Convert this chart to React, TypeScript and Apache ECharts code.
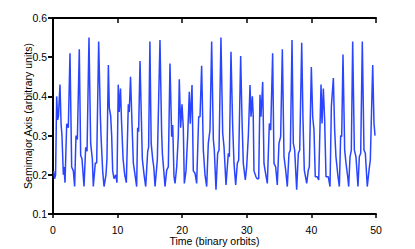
import React, { useEffect, useRef } from "react";
import * as echarts from "echarts";

// Time in binary orbits
const timeOrbits: number[] = [
  0.1, 0.25, 0.4, 0.57, 0.72, 0.85, 1.08, 1.25, 1.39, 1.6, 1.7, 1.86,
  2.12, 2.37, 2.63, 2.89, 3.15, 3.35,
  3.56, 3.77, 4.07, 4.28, 4.49, 4.8,
  5.06, 5.27, 5.57, 5.83, 6.09, 6.24,
  6.55, 6.76, 7.07, 7.33, 7.43, 7.69, 7.9,
  8.2, 8.35, 8.57, 8.72, 8.93, 9.08, 9.24, 9.44, 9.7, 9.9,
  10.1, 10.25, 10.45, 10.6, 10.85, 11.1, 11.35,
  11.66, 11.8, 12.0, 12.23, 12.44, 12.7, 12.95,
  13.1, 13.25, 13.47, 13.83, 14.1, 14.35,
  14.66, 14.8, 15.0, 15.2, 15.43, 15.6, 15.8,
  16.15, 16.56, 16.82, 16.93, 17.18, 17.34,
  17.6, 17.85, 18.11, 18.37, 18.53, 18.73, 18.89,
  19.15, 19.4, 19.55, 19.76, 19.97, 20.17, 20.33,
  20.59, 20.85, 21.1, 21.25, 21.52, 21.72, 21.98, 22.24,
  22.55, 22.76, 23.01, 23.27, 23.53, 23.79,
  24.04, 24.3, 24.56, 24.82, 24.97, 25.23,
  25.49, 25.7, 26.0, 26.27, 26.47, 26.78,
  27.14, 27.3, 27.55, 27.81, 28.02, 28.28,
  28.53, 28.74, 29.05, 29.26, 29.46, 29.77,
  29.98, 30.24, 30.5, 30.65, 30.86, 31.0, 31.11, 31.42, 31.6, 31.84,
  32.04, 32.2, 32.46, 32.66, 32.82, 33.18,
  33.49, 33.7, 34.0, 34.21, 34.47, 34.72,
  34.98, 35.24, 35.5, 35.76, 36.02, 36.27,
  36.53, 36.74, 37.0, 37.2, 37.41, 37.72,
  37.98, 38.19, 38.5, 38.7, 38.9, 39.27,
  39.52, 39.68, 39.99, 40.2, 40.4, 40.6, 40.91, 41.13,
  41.49, 41.64, 41.85, 42.05, 42.26, 42.62, 42.88,
  43.09, 43.4, 43.6, 43.8, 44.12, 44.33,
  44.53, 44.69, 44.89, 45.15, 45.36, 45.62, 45.77,
  45.98, 46.18, 46.39, 46.65, 46.9, 47.21,
  47.42, 47.63, 47.88, 48.14, 48.35, 48.65,
  48.92, 49.12, 49.49, 49.69, 49.85,
];

// Semimajor axis (arbitrary units)
const semimajorAxis: number[] = [
  0.21, 0.19, 0.2, 0.4, 0.34, 0.35, 0.43, 0.33, 0.3, 0.2, 0.22, 0.18,
  0.33, 0.32, 0.51, 0.22, 0.21, 0.17,
  0.3, 0.29, 0.52, 0.25, 0.24, 0.17,
  0.27, 0.26, 0.55, 0.28, 0.24, 0.17,
  0.23, 0.23, 0.54, 0.35, 0.3, 0.21, 0.17,
  0.2, 0.24, 0.48, 0.37, 0.35, 0.3, 0.21, 0.19, 0.2, 0.18,
  0.43, 0.36, 0.42, 0.34, 0.24, 0.2, 0.18,
  0.38, 0.36, 0.45, 0.33, 0.23, 0.2, 0.17,
  0.32, 0.31, 0.49, 0.24, 0.2, 0.17,
  0.26, 0.27, 0.54, 0.28, 0.24, 0.22, 0.17,
  0.238, 0.544, 0.306, 0.255, 0.204, 0.17,
  0.212, 0.22, 0.484, 0.297, 0.327, 0.195, 0.178,
  0.22, 0.3, 0.444, 0.32, 0.38, 0.32, 0.178,
  0.21, 0.3, 0.412, 0.33, 0.429, 0.21, 0.204, 0.178,
  0.348, 0.348, 0.478, 0.263, 0.2, 0.17,
  0.28, 0.314, 0.54, 0.29, 0.263, 0.162,
  0.255, 0.263, 0.55, 0.306, 0.272, 0.174,
  0.255, 0.246, 0.514, 0.327, 0.229, 0.174,
  0.229, 0.238, 0.503, 0.34, 0.229, 0.187,
  0.22, 0.3, 0.429, 0.348, 0.4, 0.348, 0.21, 0.195, 0.19, 0.19,
  0.404, 0.348, 0.437, 0.229, 0.212, 0.178,
  0.331, 0.314, 0.51, 0.229, 0.22, 0.174,
  0.28, 0.297, 0.52, 0.246, 0.212, 0.17,
  0.255, 0.263, 0.544, 0.28, 0.263, 0.162,
  0.255, 0.263, 0.537, 0.34, 0.212, 0.178,
  0.212, 0.22, 0.475, 0.348, 0.314, 0.195, 0.195, 0.187,
  0.43, 0.331, 0.42, 0.34, 0.195, 0.195, 0.17,
  0.374, 0.447, 0.314, 0.246, 0.195, 0.17,
  0.3, 0.297, 0.507, 0.263, 0.229, 0.195, 0.17,
  0.246, 0.263, 0.54, 0.263, 0.246, 0.17,
  0.246, 0.255, 0.54, 0.263, 0.255, 0.17,
  0.212, 0.238, 0.48, 0.331, 0.3,
];

const xTickValues = [0, 10, 20, 30, 40, 50];
const yTickValues = [0.1, 0.2, 0.3, 0.4, 0.5, 0.6];

const FONT = "'Liberation Sans Narrow', 'Liberation Sans', Arial, sans-serif";
const FS = 10.5;

export default function App() {
  const ref = useRef<HTMLDivElement>(null);
  useEffect(() => {
    if (!ref.current) return;
    const chart = echarts.init(ref.current, undefined, { renderer: "svg" });
    const data = timeOrbits.map((t, i) => [t, semimajorAxis[i]]);
    const lineStyle = { color: "#000", width: 2 };
    const xBase = {
      type: "value" as const,
      min: xTickValues[0],
      max: xTickValues[xTickValues.length - 1],
      interval: 10,
      splitLine: { show: false },
    };
    const yBase = {
      type: "value" as const,
      min: yTickValues[0],
      max: yTickValues[yTickValues.length - 1],
      interval: 0.1,
      splitLine: { show: false },
    };
    chart.setOption({
      animation: false,
      backgroundColor: "#fff",
      grid: {
        left: 53,
        right: 39,
        top: 18,
        bottom: 35,
        containLabel: false,
        outerBoundsMode: "none",
      },
      xAxis: [
        {
          ...xBase,
          position: "bottom",
          axisLine: { show: true, lineStyle },
          axisTick: { show: true, inside: false, length: 4, lineStyle: { color: "#000", width: 1.5 } },
          axisLabel: { color: "#000", fontSize: FS, fontFamily: FONT, margin: 10 },
          name: "Time (binary orbits)",
          nameLocation: "middle",
          nameGap: 21,
          nameMoveOverlap: false,
          nameTextStyle: { color: "#000", fontSize: FS, fontFamily: FONT },
        },
        {
          ...xBase,
          position: "top",
          axisLine: { show: true, lineStyle },
          axisTick: { show: true, inside: true, length: 5, lineStyle: { color: "#000", width: 1.5 } },
          axisLabel: { show: false },
        },
      ],
      yAxis: [
        {
          ...yBase,
          position: "left",
          axisLine: { show: true, lineStyle },
          axisTick: { show: true, inside: false, length: 5, lineStyle: { color: "#000", width: 1.5 } },
          axisLabel: {
            color: "#000",
            fontSize: FS,
            fontFamily: FONT,
            margin: 6,
            formatter: (v: number) => v.toFixed(1),
          },
          name: "Semimajor Axis (arbitrary units)",
          nameLocation: "middle",
          nameGap: 20,
          nameRotate: 90,
          nameMoveOverlap: false,
          nameTextStyle: { color: "#000", fontSize: FS, fontFamily: FONT },
        },
        {
          ...yBase,
          position: "right",
          axisLine: { show: true, lineStyle },
          axisTick: { show: true, inside: true, length: 5, lineStyle: { color: "#000", width: 1.5 } },
          axisLabel: { show: false },
        },
      ],
      series: [
        {
          type: "line",
          data,
          xAxisIndex: 0,
          yAxisIndex: 0,
          showSymbol: false,
          symbol: "none",
          lineStyle: { color: "#2a45ff", width: 1.5 },
          clip: true,
        },
      ],
    });
    return () => chart.dispose();
  }, []);
  return (
    <div
      ref={ref}
      style={{ position: "absolute", left: 0, top: 0, width: 415, height: 249 }}
    />
  );
}
